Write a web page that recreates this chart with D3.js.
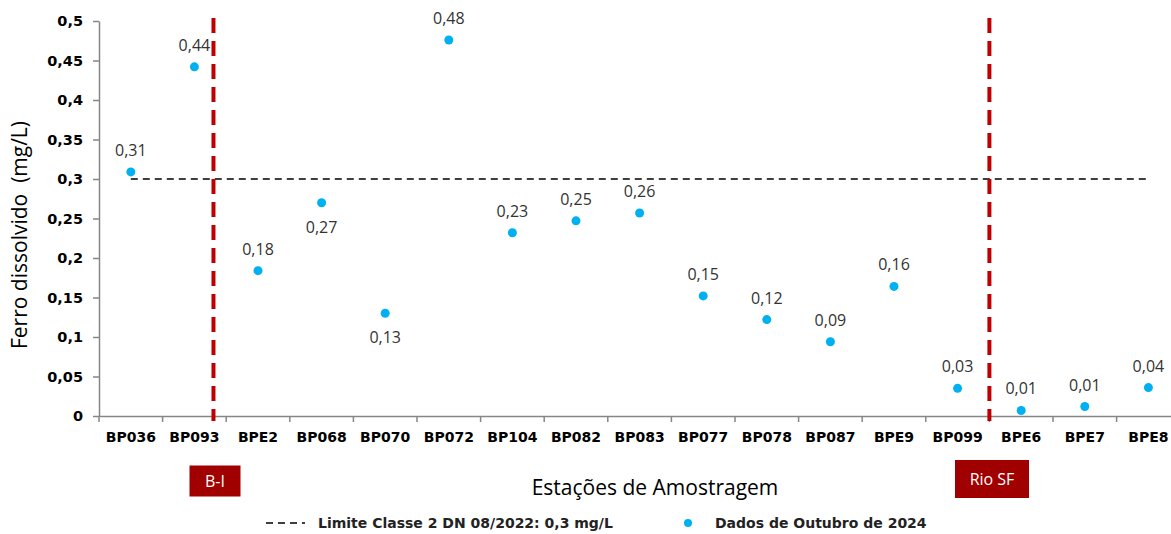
<!DOCTYPE html>
<html><head><meta charset="utf-8">
<script src="https://cdn.jsdelivr.net/npm/d3@7"></script>
<style>body{margin:0;background:#fff;} svg{display:block;}</style>
</head><body>
<svg id="c" width="1171" height="534"></svg>
<script>
const categories = ["BP036","BP093","BPE2","BP068","BP070","BP072","BP104","BP082","BP083","BP077","BP078","BP087","BPE9","BP099","BPE6","BPE7","BPE8"];
const values = [0.309,0.442,0.184,0.270,0.130,0.476,0.232,0.247,0.257,0.152,0.122,0.094,0.164,0.035,0.007,0.012,0.036];
const labels = ["0,31","0,44","0,18","0,27","0,13","0,48","0,23","0,25","0,26","0,15","0,12","0,09","0,16","0,03","0,01","0,01","0,04"];
const labelBelow = [false,false,false,true,true,false,false,false,false,false,false,false,false,false,false,false,false];
const yTicks = [0,0.05,0.1,0.15,0.2,0.25,0.3,0.35,0.4,0.45,0.5];
const yTickLabels = ["0","0,05","0,1","0,15","0,2","0,25","0,3","0,35","0,4","0,45","0,5"];
const limitValue = 0.3;
const dividers = [{pos:1.8,label:"B-I"},{pos:14,label:"Rio SF"}];

const svg = d3.select("#c");
const left = 99, bandW = 63.6;
const x = d3.scaleBand().domain(categories).range([left, left + bandW*categories.length]);
const y = d3.scaleLinear().domain([0,0.5]).range([416,21]);
const axisColor = "#868686";
const font = "'DejaVu Sans', sans-serif";
const lblFont = "'Open Sans', sans-serif";

// y axis
const ya = svg.append("g").attr("transform",`translate(${left},0)`)
  .call(d3.axisLeft(y).tickValues(yTicks).tickFormat((d,i)=>yTickLabels[i]).tickSize(6).tickSizeOuter(0).tickPadding(10));
ya.select(".domain").attr("stroke",axisColor).attr("stroke-width",1.5);
ya.selectAll(".tick line").attr("stroke",axisColor).attr("stroke-width",1.5);
ya.selectAll(".tick text").attr("font-family",font).attr("font-weight","bold").attr("font-size",14.5).attr("fill","#000");

// x axis
const xa = svg.append("g").attr("transform",`translate(0,${y(0)})`)
  .call(d3.axisBottom(x).tickSize(0).tickPadding(16));
xa.select(".domain").attr("stroke",axisColor).attr("stroke-width",1.5);
xa.selectAll(".tick text").attr("font-family",font).attr("font-weight","bold").attr("font-size",14).attr("fill","#000");
// band boundary ticks
const bounds = d3.range(categories.length+1).map(i=>left+i*bandW);
svg.append("g").selectAll("line").data(bounds).join("line")
  .attr("x1",d=>d).attr("x2",d=>d).attr("y1",y(0)).attr("y2",y(0)+6)
  .attr("stroke",axisColor).attr("stroke-width",1.5);

// limit line
svg.append("line")
  .attr("x1",x(categories[0])+x.bandwidth()/2).attr("x2",x(categories[categories.length-1])+x.bandwidth()/2)
  .attr("y1",y(limitValue)).attr("y2",y(limitValue))
  .attr("stroke","#000").attr("stroke-width",1.6).attr("stroke-dasharray","7,5");

// dividers
dividers.forEach(dv=>{
  const xp = left + dv.pos*bandW;
  svg.append("line").attr("x1",xp).attr("x2",xp).attr("y1",18).attr("y2",421)
    .attr("stroke","#c00000").attr("stroke-width",4).attr("stroke-dasharray","15,8");
});

// points
svg.append("g").selectAll("circle").data(values).join("circle")
  .attr("cx",(d,i)=>x(categories[i])+x.bandwidth()/2).attr("cy",d=>y(d)).attr("r",4.5)
  .attr("fill","#00b0f0");
svg.append("g").selectAll("text").data(values).join("text")
  .attr("x",(d,i)=>x(categories[i])+x.bandwidth()/2)
  .attr("y",(d,i)=>labelBelow[i]? y(d)+30 : y(d)-16)
  .attr("text-anchor","middle").attr("font-family",lblFont).attr("font-size",16).attr("fill","#333")
  .text((d,i)=>labels[i]);

// axis titles
svg.append("text").attr("transform","translate(27,235) rotate(-90)").attr("text-anchor","middle")
  .attr("font-family",lblFont).attr("font-size",21).attr("fill","#000").text("Ferro dissolvido\u00a0 (mg/L)");
svg.append("text").attr("x",655).attr("y",495).attr("text-anchor","middle")
  .attr("font-family",lblFont).attr("font-size",21).attr("fill","#000").text("Estações de Amostragem");

// region boxes
const boxes = [{cx:215,w:51,h:31,cy:481,t:"B-I"},{cx:992,w:74,h:38,cy:479,t:"Rio SF"}];
boxes.forEach(b=>{
  svg.append("rect").attr("x",b.cx-b.w/2).attr("y",b.cy-b.h/2).attr("width",b.w).attr("height",b.h).attr("fill","#a00000");
  svg.append("text").attr("x",b.cx).attr("y",b.cy+6).attr("text-anchor","middle")
    .attr("font-family",lblFont).attr("font-size",16).attr("fill","#fff").text(b.t);
});

// legend
svg.append("line").attr("x1",266).attr("x2",305).attr("y1",523).attr("y2",523)
  .attr("stroke","#000").attr("stroke-width",1.6).attr("stroke-dasharray","7,5");
svg.append("text").attr("x",318).attr("y",528).attr("font-family",font).attr("font-weight","bold")
  .attr("font-size",14).attr("fill","#222").text("Limite Classe 2 DN 08/2022: 0,3 mg/L");
svg.append("circle").attr("cx",688).attr("cy",523).attr("r",4).attr("fill","#00b0f0");
svg.append("text").attr("x",715).attr("y",528).attr("font-family",font).attr("font-weight","bold")
  .attr("font-size",14).attr("fill","#222").text("Dados de Outubro de 2024");
</script>
</body></html>
